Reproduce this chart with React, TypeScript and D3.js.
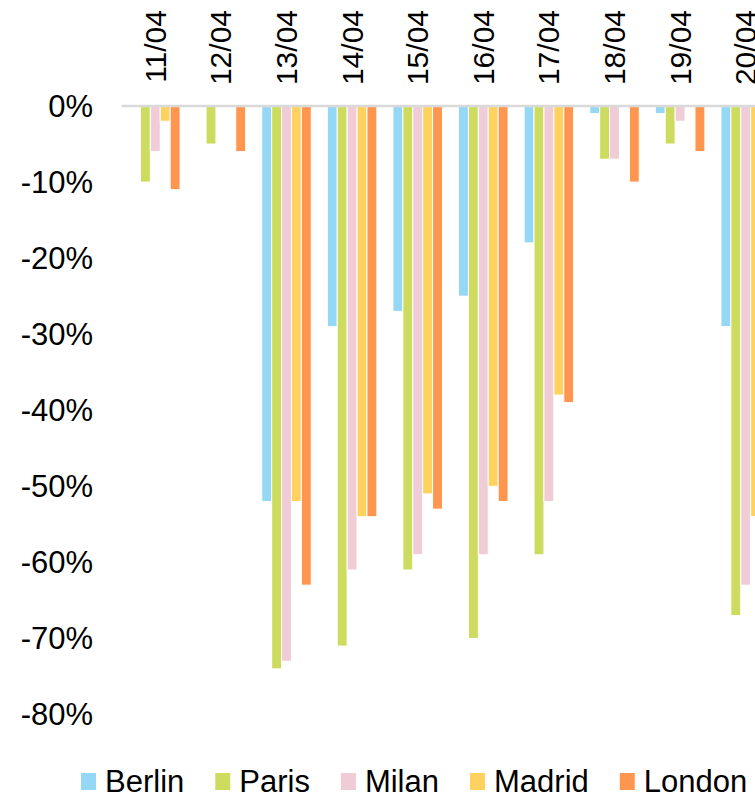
import React, { useEffect, useRef } from "react";
import * as d3 from "d3";

const categories = ["11/04", "12/04", "13/04", "14/04", "15/04", "16/04", "17/04", "18/04", "19/04", "20/04"];
const seriesNames = ["Berlin", "Paris", "Milan", "Madrid", "London"];
const berlin = [0, 0, -52, -29, -27, -25, -18, -1, -1, -29];
const paris = [-10, -5, -74, -71, -61, -70, -59, -7, -5, -67];
const milan = [-6, 0, -73, -61, -59, -59, -52, -7, -2, -63];
const madrid = [-2, 0, -52, -54, -51, -50, -38, 0, 0, -54];
const london = [-11, -6, -63, -54, -53, -52, -39, -10, -6, -55];
const seriesValues = [berlin, paris, milan, madrid, london];
const colors = ["#94D8F6", "#CDDC5F", "#EFCCD6", "#FFD15F", "#FF9650"];
const yTicks = [0, -10, -20, -30, -40, -50, -60, -70, -80];

const W = 755;
const H = 798;
const FONT = "'Liberation Sans', Arial, sans-serif";

export default function App() {
  const ref = useRef<SVGSVGElement | null>(null);

  useEffect(() => {
    const svg = d3.select(ref.current);
    svg.selectAll("*").remove();

    const plotLeft = 122.5;
    const step = 65.6;
    const x0 = d3
      .scaleBand<string>()
      .domain(categories)
      .range([plotLeft, plotLeft + step * categories.length])
      .paddingInner(0.245)
      .paddingOuter(0.1225);
    const x1 = d3
      .scaleBand<string>()
      .domain(seriesNames)
      .range([0, x0.bandwidth()]);
    const y = d3.scaleLinear().domain([-80, 0]).range([714.5, 106]);

    // bars
    seriesNames.forEach((name, si) => {
      const vals = seriesValues[si];
      svg
        .append("g")
        .selectAll("rect")
        .data(categories.map((c, i) => ({ c, v: vals[i] })).filter((d) => d.v !== 0))
        .join("rect")
        .attr("x", (d) => (x0(d.c) as number) + (x1(name) as number))
        .attr("y", y(0))
        .attr("width", x1.bandwidth())
        .attr("height", (d) => y(d.v) - y(0))
        .attr("fill", colors[si])
        .attr("stroke", "#ffffff")
        .attr("stroke-width", 1);
    });

    // zero line
    svg
      .append("line")
      .attr("x1", plotLeft - 1)
      .attr("x2", W)
      .attr("y1", y(0))
      .attr("y2", y(0))
      .attr("stroke", "#D9D9D9")
      .attr("stroke-width", 2.5);

    // y tick labels
    svg
      .append("g")
      .selectAll("text")
      .data(yTicks)
      .join("text")
      .attr("x", 93)
      .attr("y", (d) => y(d))
      .attr("text-anchor", "end")
      .attr("dominant-baseline", "central")
      .attr("font-family", FONT)
      .attr("font-size", 31)
      .attr("fill", "#000")
      .text((d) => `${d}%`);

    // category labels (rotated, top)
    svg
      .append("g")
      .selectAll("text")
      .data(categories)
      .join("text")
      .attr("transform", (d) => `translate(${(x0(d) as number) + x0.bandwidth() / 2},10) rotate(-90)`)
      .attr("text-anchor", "end")
      .attr("dominant-baseline", "central")
      .attr("font-family", FONT)
      .attr("font-size", 30)
      .attr("fill", "#000")
      .text((d) => d);

    // legend
    const lg = svg.append("g");
    let lx = 81;
    seriesNames.forEach((name, si) => {
      lg.append("rect")
        .attr("x", lx)
        .attr("y", 773)
        .attr("width", 15)
        .attr("height", 17)
        .attr("fill", colors[si]);
      const t = lg
        .append("text")
        .attr("x", lx + 24)
        .attr("y", 781)
        .attr("dominant-baseline", "central")
        .attr("font-family", FONT)
        .attr("font-size", 31)
        .attr("fill", "#000")
        .text(name);
      const tw = (t.node() as SVGTextElement).getComputedTextLength();
      lx = lx + 24 + tw + 31;
    });
  }, []);

  return (
    <svg
      ref={ref}
      width={W}
      height={H}
      style={{ position: "absolute", left: 0, top: 0, background: "#fff" }}
    />
  );
}
